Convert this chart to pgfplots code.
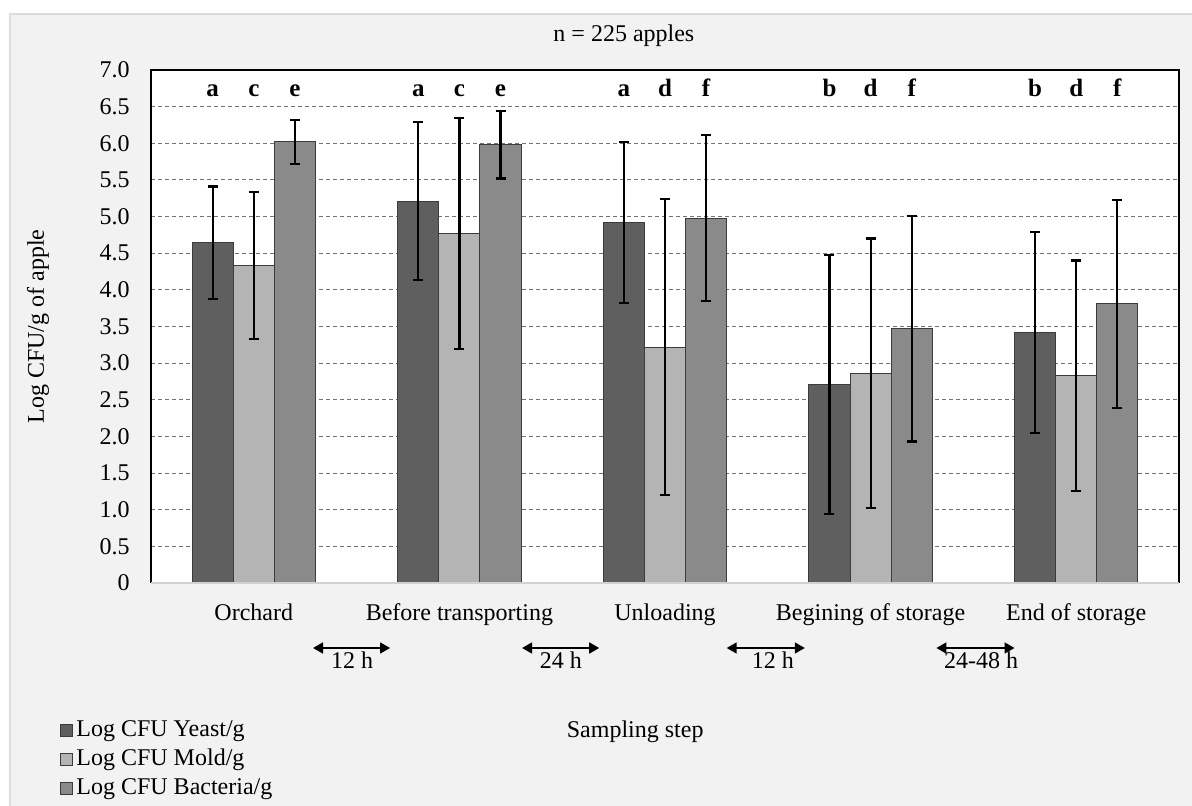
\documentclass[border=0pt]{standalone}
\usepackage{fontspec}
\setmainfont{Liberation Serif}
\usepackage{pgfplots}
\pgfplotsset{compat=1.18}
\usepackage{pgfplotstable}
\usetikzlibrary{arrows.meta}

\definecolor{bggray}{HTML}{F2F2F2}
\definecolor{yeast}{HTML}{5F5F5F}
\definecolor{mold}{HTML}{B4B4B4}
\definecolor{bact}{HTML}{8A8A8A}
\definecolor{barline}{HTML}{3C3C3C}

\pgfplotstableread{
x y e
0 4.64 0.77
1 5.21 1.08
2 4.92 1.10
3 2.71 1.77
4 3.42 1.37
}\yeastdata
\pgfplotstableread{
x y e
0 4.33 1.00
1 4.77 1.58
2 3.22 2.02
3 2.86 1.84
4 2.83 1.57
}\molddata
\pgfplotstableread{
x y e
0 6.02 0.30
1 5.98 0.46
2 4.98 1.13
3 3.47 1.54
4 3.81 1.42
}\bactdata

\begin{document}
\begin{tikzpicture}[font=\fontsize{12}{14.4}\selectfont]
\useasboundingbox (0,0) rectangle (596pt,403pt);
\fill[white] (0,0) rectangle (596pt,403pt);
\draw[fill=bggray, draw=black!14, line width=0.6pt] (5pt,-2pt) rectangle (598pt,396pt);
\begin{axis}[
  at={(75.5pt,111.5pt)}, anchor=south west,
  scale only axis, width=514pt, height=256.5pt,
  xmin=-0.5, xmax=4.5, ymin=0, ymax=7,
  clip=false,
  axis background/.style={fill=white},
  axis line style={draw=none},
  major tick length=0pt,
  xtick={0,1,2,3,4},
  xticklabels={Orchard, Before transporting, Unloading, Begining of storage, End of storage},
  xticklabel style={anchor=base, yshift=-19pt},
  ytick={0,0.5,1,1.5,2,2.5,3,3.5,4,4.5,5,5.5,6,6.5,7},
  yticklabels={0,0.5,1.0,1.5,2.0,2.5,3.0,3.5,4.0,4.5,5.0,5.5,6.0,6.5,7.0},
  yticklabel style={anchor=east, inner sep=0pt, xshift=-10.5pt},
  ymajorgrids,
  grid style={dash pattern=on 2pt off 1.5pt, line width=0.5pt, black!55},
  ylabel={Log CFU/g of apple},
  ylabel style={at={(axis description cs:-0.110,0.5)}, anchor=center},
  ybar=0pt, bar width=0.2,
  legend image code/.code={\draw[#1, line width=0.5pt] (0pt,-3pt) rectangle (6pt,3pt);},
  legend style={at={(axis description cs:-0.0885,-0.259)}, anchor=north west,
    draw=none, fill=none, inner sep=0pt, row sep=0pt,
    nodes={inner sep=1.5pt, text height=8.8pt, text depth=2.7pt}},
  legend cell align=left,
  error bars/error bar style={line width=1.1pt, black},
  error bars/error mark options={rotate=90, mark size=2.5pt, line width=1.1pt, black},
]
\addplot[fill=yeast, draw=barline, line width=0.5pt, bar shift=-0.2,
  error bars/.cd, y dir=both, y explicit]
  table[x=x, y=y, y error=e]{\yeastdata};
\addlegendentry{Log CFU Yeast/g}
\addplot[fill=mold, draw=barline, line width=0.5pt, bar shift=0,
  error bars/.cd, y dir=both, y explicit]
  table[x=x, y=y, y error=e]{\molddata};
\addlegendentry{Log CFU Mold/g}
\addplot[fill=bact, draw=barline, line width=0.5pt, bar shift=0.2,
  error bars/.cd, y dir=both, y explicit]
  table[x=x, y=y, y error=e]{\bactdata};
\addlegendentry{Log CFU Bacteria/g}

% frame
\draw[line width=0.9pt, black] (rel axis cs:0,0) -- (rel axis cs:0,1) -- (rel axis cs:1,1) -- (rel axis cs:1,0);
\draw[line width=1pt, black!18] (rel axis cs:0,0) -- (rel axis cs:1,0);

% significance letters
\begin{scope}[every node/.style={anchor=base, font=\fontsize{12.5}{15}\selectfont\bfseries}]
\node at (axis cs:-0.2,6.645) {a}; \node at (axis cs:0,6.645) {c}; \node at (axis cs:0.2,6.645) {e};
\node at (axis cs:0.8,6.645) {a}; \node at (axis cs:1,6.645) {c}; \node at (axis cs:1.2,6.645) {e};
\node at (axis cs:1.8,6.645) {a}; \node at (axis cs:2,6.645) {d}; \node at (axis cs:2.2,6.645) {f};
\node at (axis cs:2.8,6.645) {b}; \node at (axis cs:3,6.645) {d}; \node at (axis cs:3.2,6.645) {f};
\node at (axis cs:3.8,6.645) {b}; \node at (axis cs:4,6.645) {d}; \node at (axis cs:4.2,6.645) {f};
\end{scope}

% time arrows
\begin{scope}[line width=0.8pt, {Triangle[length=5pt,width=5.5pt]}-{Triangle[length=5pt,width=5.5pt]}]
\draw (axis cs:0.288,-0.887) -- (axis cs:0.663,-0.887);
\draw (axis cs:1.305,-0.887) -- (axis cs:1.680,-0.887);
\draw (axis cs:2.300,-0.887) -- (axis cs:2.680,-0.887);
\draw (axis cs:3.320,-0.887) -- (axis cs:3.700,-0.887);
\end{scope}
\node[anchor=base] at (axis cs:0.478,-1.160) {12 h};
\node[anchor=base] at (axis cs:1.494,-1.160) {24 h};
\node[anchor=base] at (axis cs:2.525,-1.160) {12 h};
\node[anchor=base] at (axis cs:3.537,-1.160) {24-48 h};

\node[anchor=base] at (axis description cs:0.460,1.0552) {n = 225 apples};
\node[anchor=base] at (axis description cs:0.471,-0.302) {Sampling step};
\end{axis}
\end{tikzpicture}
\end{document}
